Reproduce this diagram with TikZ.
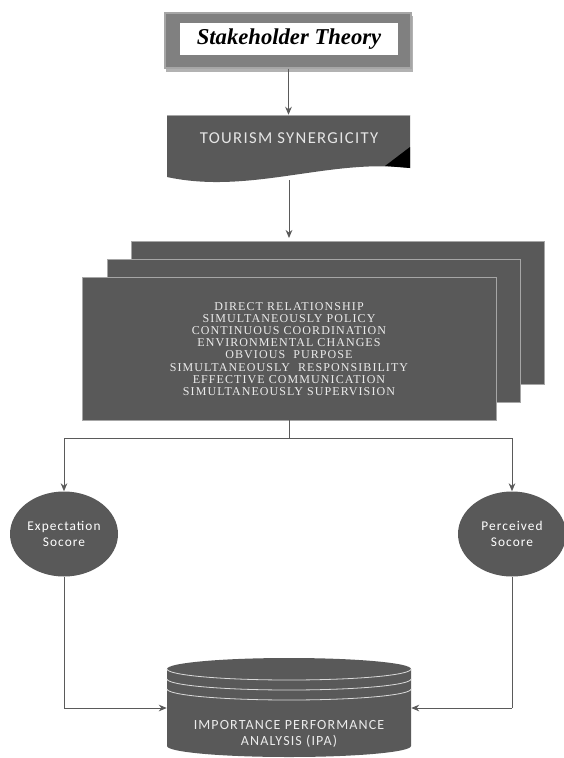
\documentclass[tikz,border=0pt]{standalone}
\usepackage{fontspec}
\usetikzlibrary{arrows.meta,shapes.geometric,shadows}
\newfontfamily\stkfont{Liberation Serif}
\newfontfamily\calfont{Carlito}[LetterSpace=8]
\newfontfamily\tmsfont{Liberation Serif}[LetterSpace=9]
\definecolor{dk}{HTML}{595959}
\definecolor{ln}{HTML}{5A5A5A}
\definecolor{bord}{HTML}{A6A6A6}
\tikzset{
  conn/.style={draw=ln, line width=0.7pt},
  arr/.style={conn, -{Stealth[length=6pt,width=5pt]}},
  card/.style={fill=dk, draw=bord, line width=0.6pt},
  score/.style={ellipse, fill=dk, draw=none, minimum width=108*0.75pt, minimum height=85*0.75pt, inner sep=0pt, text=white, font=\calfont\fontsize{10}{12.5}\selectfont, align=center},
}
\begin{document}
\begin{tikzpicture}[x=0.75pt,y=-0.75pt]
\useasboundingbox (0,0) rectangle (564,758);
% Stakeholder theory box
\fill[black!30] (166,16) rectangle (413,72);
\node[draw=bord, fill=black!50, line width=1pt, minimum width=246*0.75pt, minimum height=55*0.75pt, inner sep=0pt] (stk) at (288,40.5) {};
\node[fill=white, minimum width=218*0.75pt, minimum height=32*0.75pt, inner sep=0pt, font=\stkfont\bfseries\itshape\fontsize{17}{18}\selectfont] (stkt) at (289,39) {Stakeholder Theory};
% Tourism synergicity wave box
\fill[dk] (167,115) -- (410,115) -- (410,168) .. controls (330,158) and (250,195) .. (167,177) -- cycle;
\fill[black] (385,166) -- (410,147) -- (410,168) -- cycle;
\draw[bord, line width=0.6pt] (167,115) -- (410,115);
\node[minimum width=243*0.75pt, minimum height=50*0.75pt, inner sep=0pt] (tour) at (288.5,140) {};
\node[text=white!90!black, font=\calfont\fontsize{12.5}{14}\selectfont] (tourt) at (289,138) {TOURISM SYNERGICITY};
% stacked cards
\draw[card] (131,241) rectangle (544,384);
\draw[card] (107,259) rectangle (520,402);
\node[card, minimum width=414*0.75pt, minimum height=143*0.75pt, inner sep=0pt] (stack) at (289,348.5) {};
\node[text=white!92!black, align=center, font=\tmsfont\fontsize{9}{9.15}\selectfont] (stackt) at (289,349) {DIRECT RELATIONSHIP\\SIMULTANEOUSLY POLICY\\CONTINUOUS COORDINATION\\ENVIRONMENTAL CHANGES\\OBVIOUS\ \ PURPOSE\\SIMULTANEOUSLY\ \ RESPONSIBILITY\\EFFECTIVE COMMUNICATION\\SIMULTANEOUSLY SUPERVISION};
% score ellipses
\node[score] (exp) at (64,534) {Expectation\\Socore};
\node[score] (per) at (512,534) {Perceived\\Socore};
% cylinder
\fill[dk] (167,669) -- (167,746) arc[start angle=180, end angle=0, x radius=122, y radius=11] -- (411,669) arc[start angle=0, end angle=-180, x radius=122, y radius=11] -- cycle;
\draw[white!85!black, line width=0.6pt] (411,669) arc[start angle=0, end angle=180, x radius=122, y radius=11];
\draw[white!85!black, line width=0.6pt] (411,679) arc[start angle=0, end angle=180, x radius=122, y radius=11];
\draw[white!85!black, line width=0.6pt] (411,689) arc[start angle=0, end angle=180, x radius=122, y radius=11];
\node[minimum width=244*0.75pt, minimum height=99*0.75pt, inner sep=0pt] (ipa) at (289,708) {};
\node[text=white!92!black, align=center, font=\calfont\fontsize{10.5}{12}\selectfont] (ipat) at (289,734) {IMPORTANCE PERFORMANCE\\ANALYSIS (IPA)};
% connectors
\coordinate (split) at (289,438);
\coordinate (sl) at (64,438);
\coordinate (sr) at (512,438);
\coordinate (bl) at (64,708);
\coordinate (br) at (512,708);
\draw[arr] (stk.south -| tour.north) -- (tour.north);
\draw[arr] (289,180) -- (289,238);
\draw[conn] (stack.south) -- (split);
\draw[conn] (sl) -- (sr);
\draw[arr] (sl) -- (exp.north);
\draw[arr] (sr) -- (per.north);
\draw[conn] (exp.south) -- (bl);
\draw[arr] (bl) -- (ipa.west |- bl);
\draw[conn] (per.south) -- (br);
\draw[arr] (br) -- (ipa.east |- br);
\end{tikzpicture}
\end{document}
